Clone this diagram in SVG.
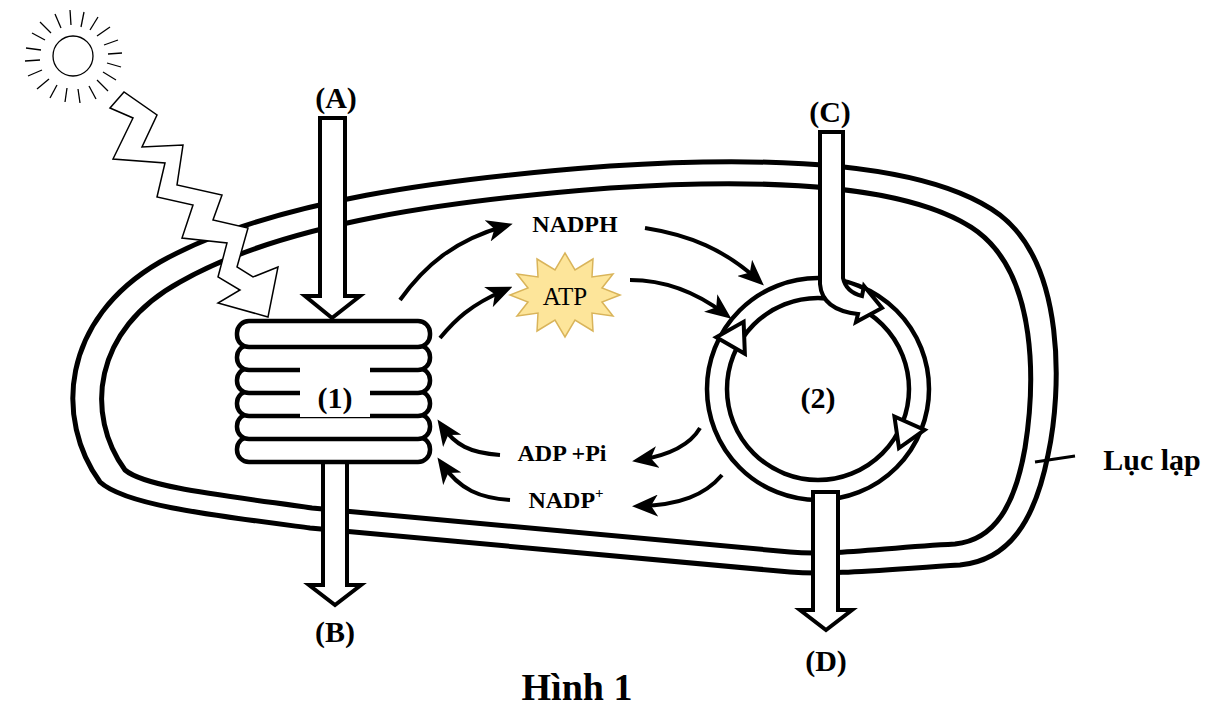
<svg xmlns="http://www.w3.org/2000/svg" width="1218" height="710" viewBox="0 0 1218 710">
<style>
.m{fill:none;stroke:#000;stroke-width:5}
.h{fill:#fff;stroke:#000;stroke-width:4;stroke-linejoin:miter}
.c{fill:none;stroke:#000;stroke-width:4}
.t{font-family:"Liberation Serif",serif;font-weight:bold;fill:#000}
.thin{fill:#fff;stroke:#000;stroke-width:1.5}
</style>
<defs>
<marker id="ah" viewBox="0 0 26 22" refX="18" refY="11" markerWidth="26" markerHeight="22" markerUnits="userSpaceOnUse" orient="auto">
<path d="M0,0 L26,11 L0,22 L7,11 Z" fill="#000"/>
</marker>
</defs>
<rect width="1218" height="710" fill="#fff"/>
<g id="chloroplast">
<path class="m" d="M100,482 C55,420 60,320 160,262 C270,200 450,178 610,166 C780,155 930,163 1000,215 C1065,265 1062,390 1048,455 C1035,520 1010,560 960,565 C880,570 830,575 790,572 L310,528 C210,515 125,505 100,482 Z"/>
<path class="m" d="M125,470 C85,415 92,330 180,282 C285,222 455,200 610,188 C775,177 915,186 978,232 C1038,278 1035,385 1025,448 C1015,505 995,540 955,544 C880,548 830,556 790,552 L312,508 C220,495 145,487 125,470 Z"/>
</g>
<g id="sun">
<circle cx="73" cy="56" r="20" class="thin" style="stroke-width:1.3"/>
<g stroke="#000" stroke-width="1.3">
<line x1="70" y1="10" x2="71" y2="25"/><line x1="84" y1="12" x2="81" y2="27"/><line x1="98" y1="17" x2="90" y2="30"/><line x1="110" y1="27" x2="97" y2="36"/><line x1="118" y1="40" x2="104" y2="45"/><line x1="122" y1="53" x2="108" y2="54"/><line x1="121" y1="67" x2="107" y2="63"/><line x1="116" y1="80" x2="103" y2="72"/><line x1="108" y1="91" x2="97" y2="80"/><line x1="96" y1="99" x2="89" y2="86"/><line x1="80" y1="103" x2="78" y2="89"/><line x1="65" y1="102" x2="67" y2="88"/><line x1="50" y1="98" x2="57" y2="85"/><line x1="37" y1="89" x2="49" y2="79"/><line x1="28" y1="76" x2="42" y2="70"/><line x1="25" y1="61" x2="40" y2="60"/><line x1="26" y1="48" x2="41" y2="50"/><line x1="32" y1="33" x2="45" y2="40"/><line x1="40" y1="22" x2="51" y2="33"/><line x1="55" y1="14" x2="61" y2="28"/>
</g>
</g>
<g id="light">
<polygon class="thin" points="110,108 133,118 113,159 165,163 157,197 193,205 182,238 227,243 218,277 240,290 218,303 268,317 278,267 253,277 237,267 248,228 213,220 222,195 177,185 183,145 142,147 157,115 124,92"/>
</g>
<g id="arrowA"><polygon class="h" points="320,118 345,118 345,296 360,296 332,318 305,296 320,296"/></g>
<g id="arrowB"><polygon class="h" points="323,460 347,460 347,585 361,585 335,605 309,585 323,585"/></g>
<g id="thylakoid">
<g class="h" style="stroke-width:4.5">
<rect x="237" y="437" width="193" height="25" rx="12"/>
<rect x="237" y="414" width="193" height="25" rx="12"/>
<rect x="237" y="391" width="193" height="25" rx="12"/>
<rect x="237" y="368" width="193" height="25" rx="12"/>
<rect x="237" y="345" width="193" height="25" rx="12"/>
<rect x="237" y="321" width="193" height="26" rx="12"/>
</g>
<rect x="300" y="363" width="70" height="54" fill="#fff"/>
<text class="t" x="335" y="408" font-size="30" text-anchor="middle">(1)</text>
</g>
<g id="cycle">
<circle cx="818" cy="389" r="111" class="c" style="stroke-width:4.5"/>
<circle cx="818" cy="389" r="91" class="c" style="stroke-width:4.5"/>
<polygon class="h" points="899,383 932,383 916,410" transform="rotate(24 818 389)"/>
<polygon class="h" points="899,383 932,383 916,410" transform="rotate(210 818 389)"/>
<text class="t" x="818" y="408" font-size="30" text-anchor="middle">(2)</text>
</g>
<g id="arrowC"><path class="h" d="M820,132 L843,132 L843,278 Q846,292 862,296 L864,286 L882,308 L856,322 L858,314 Q822,310 820,284 Z"/></g>
<g id="arrowD"><polygon class="h" points="813,492 838,492 838,610 852,610 826,630 800,610 813,610"/></g>
<g id="atp">
<polygon fill="#fde59a" stroke="#d9b45a" stroke-width="1.5" points="620,295 602,302 613,316 592,313 593,331 575,320 565,337 555,320 537,331 538,313 517,316 528,302 510,295 528,288 517,274 538,277 537,259 555,270 565,253 575,270 593,259 592,277 613,274 602,288"/>
<text x="565" y="305" font-family="Liberation Serif,serif" font-size="25" text-anchor="middle">ATP</text>
</g>
<g id="connectors" class="c">
<path d="M400,300 C425,265 455,240 505,226" marker-end="url(#ah)"/>
<path d="M440,338 C455,320 470,305 505,290" marker-end="url(#ah)"/>
<path d="M645,228 C690,235 725,250 758,280" marker-end="url(#ah)"/>
<path d="M630,280 C670,280 700,295 725,314" marker-end="url(#ah)"/>
<path d="M700,428 C690,445 670,455 640,460" marker-end="url(#ah)"/>
<path d="M722,475 C705,495 680,505 640,506" marker-end="url(#ah)"/>
<path d="M500,455 C470,453 455,445 442,426" marker-end="url(#ah)"/>
<path d="M510,500 C480,498 460,490 442,464" marker-end="url(#ah)"/>
<line x1="1035" y1="462" x2="1075" y2="456" stroke-width="3"/>
</g>
<g id="labels">
<text class="t" x="336" y="108" font-size="30" text-anchor="middle">(A)</text>
<text class="t" x="335" y="642" font-size="30" text-anchor="middle">(B)</text>
<text class="t" x="830" y="122" font-size="30" text-anchor="middle">(C)</text>
<text class="t" x="826" y="671" font-size="30" text-anchor="middle">(D)</text>
<text class="t" x="575" y="232" font-size="24" text-anchor="middle">NADPH</text>
<text class="t" x="562" y="461" font-size="24" text-anchor="middle">ADP +Pi</text>
<text class="t" x="566" y="508" font-size="24" text-anchor="middle">NADP<tspan font-size="15" dy="-10">+</tspan></text>
<text class="t" x="1152" y="470" font-size="30" text-anchor="middle">Lục lạp</text>
<text class="t" x="577" y="700" font-size="38" text-anchor="middle">Hình 1</text>
</g>
</svg>
